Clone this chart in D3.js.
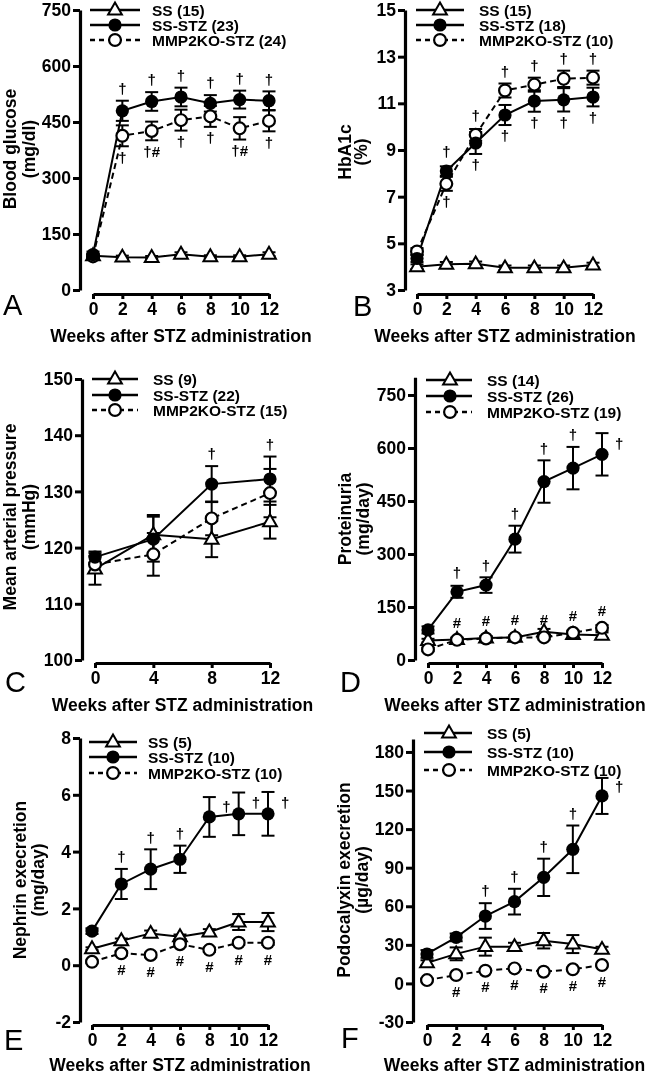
<!DOCTYPE html>
<html><head><meta charset="utf-8">
<script src="https://cdn.jsdelivr.net/npm/d3@7"></script>
<style>
body{margin:0;background:#fff}
svg{will-change:transform}
svg text{font-family:"Liberation Sans",Arial,Helvetica,sans-serif;fill:#000}
</style></head><body>
<svg id="chart" width="648" height="1075"></svg>
<script>
// ---------- shared ----------
const weeks = [0, 2, 4, 6, 8, 10, 12];
const mapWeeks = [0, 4, 8, 12];
const groupNames = {SS: "SS", STZ: "SS-STZ", KO: "MMP2KO-STZ"};
const xTitle = "Weeks after STZ administration";

// ---------- A: blood glucose ----------
const glucoseTicks = [0, 150, 300, 450, 600, 750];
const glucoseN = {SS: 15, STZ: 23, KO: 24};
const glucoseSS = [92, 88, 87, 96, 89, 89, 96];
const glucoseSSsem = [5, 4, 4, 5, 4, 4, 5];
const glucoseSTZ = [95, 480, 505, 517, 500, 510, 507];
const glucoseSTZsem = [8, 27, 25, 25, 22, 24, 25];
const glucoseKO = [90, 413, 426, 455, 465, 433, 453];
const glucoseKOsem = [6, 28, 25, 28, 28, 30, 28];
const glucoseMarks = [
  ["STZ", 2, "†", "above"], ["STZ", 4, "†", "above"], ["STZ", 6, "†", "above"],
  ["STZ", 8, "†", "above"], ["STZ", 10, "†", "above"], ["STZ", 12, "†", "above"],
  ["KO", 2, "†", "below"], ["KO", 4, "†#", "below"], ["KO", 6, "†", "below"],
  ["KO", 8, "†", "below"], ["KO", 10, "†#", "below"], ["KO", 12, "†", "below"]
];

// ---------- B: HbA1c ----------
const hbaTicks = [3, 5, 7, 9, 11, 13, 15];
const hbaN = {SS: 15, STZ: 18, KO: 10};
const hbaSS = [4.0, 4.1, 4.12, 3.95, 3.95, 3.95, 4.07];
const hbaSSsem = [0.1, 0.1, 0.1, 0.1, 0.1, 0.1, 0.1];
const hbaSTZ = [4.35, 8.1, 9.3, 10.5, 11.1, 11.15, 11.27];
const hbaSTZsem = [0.15, 0.2, 0.47, 0.43, 0.46, 0.5, 0.4];
const hbaKO = [4.65, 7.55, 9.65, 11.55, 11.8, 12.05, 12.1];
const hbaKOsem = [0.15, 0.3, 0.25, 0.3, 0.3, 0.35, 0.3];
const hbaMarks = [
  ["STZ", 2, "†", "above"], ["KO", 2, "†", "below"],
  ["KO", 4, "†", "above"], ["STZ", 4, "†", "below"],
  ["KO", 6, "†", "above"], ["STZ", 6, "†", "below"],
  ["KO", 8, "†", "above"], ["STZ", 8, "†", "below"],
  ["KO", 10, "†", "above"], ["STZ", 10, "†", "below"],
  ["KO", 12, "†", "above"], ["STZ", 12, "†", "below"]
];

// ---------- C: mean arterial pressure ----------
const mapTicks = [100, 110, 120, 130, 140, 150];
const mapN = {SS: 9, STZ: 22, KO: 15};
const mapSS = [116.2, 122.3, 121.5, 124.6];
const mapSSsem = [2.8, 3.5, 3.2, 3.0];
const mapSTZ = [118.3, 121.5, 131.3, 132.2];
const mapSTZsem = [1.0, 4.0, 3.2, 4.0];
const mapKO = [117.0, 118.8, 125.2, 129.7];
const mapKOsem = [1.5, 3.8, 3.0, 4.3];
const mapMarks = [["STZ", 8, "†", "above"], ["STZ", 12, "†", "above"]];

// ---------- D: proteinuria ----------
const protTicks = [0, 150, 300, 450, 600, 750];
const protN = {SS: 14, STZ: 26, KO: 19};
const protSS = [55, 58, 62, 64, 80, 72, 70];
const protSSsem = [5, 5, 5, 5, 8, 8, 8];
const protSTZ = [85, 193, 212, 342, 505, 543, 582];
const protSTZsem = [10, 17, 22, 38, 60, 60, 60];
const protKO = [30, 57, 61, 64, 64, 77, 91];
const protKOsem = [5, 6, 6, 6, 6, 6, 8];
const protMarks = [
  ["STZ", 2, "†", "above"], ["STZ", 4, "†", "above"], ["STZ", 6, "†", "above"],
  ["STZ", 8, "†", "above"], ["STZ", 10, "†", "above"], ["STZ", 12, "†", "right"],
  ["KO", 2, "#", "above"], ["KO", 4, "#", "above"], ["KO", 6, "#", "above"],
  ["KO", 8, "#", "above"], ["KO", 10, "#", "above"], ["KO", 12, "#", "above"]
];

// ---------- E: nephrin excretion ----------
const nephTicks = [-2, 0, 2, 4, 6, 8];
const nephN = {SS: 5, STZ: 10, KO: 10};
const nephSS = [0.58, 0.86, 1.12, 1.0, 1.17, 1.52, 1.52];
const nephSSsem = [0.05, 0.08, 0.1, 0.08, 0.1, 0.28, 0.32];
const nephSTZ = [1.2, 2.86, 3.38, 3.73, 5.22, 5.33, 5.33];
const nephSTZsem = [0.1, 0.53, 0.7, 0.48, 0.7, 0.75, 0.77];
const nephKO = [0.12, 0.42, 0.36, 0.74, 0.54, 0.79, 0.79];
const nephKOsem = [0.05, 0.08, 0.08, 0.08, 0.08, 0.08, 0.08];
const nephMarks = [
  ["STZ", 2, "†", "above"], ["STZ", 4, "†", "above"], ["STZ", 6, "†", "above"],
  ["STZ", 8, "†", "right"], ["STZ", 10, "†", "right"], ["STZ", 12, "†", "right"],
  ["KO", 2, "#", "below"], ["KO", 4, "#", "below"], ["KO", 6, "#", "below"],
  ["KO", 8, "#", "below"], ["KO", 10, "#", "below"], ["KO", 12, "#", "below"]
];

// ---------- F: podocalyxin excretion ----------
const podoTicks = [-30, 0, 30, 60, 90, 120, 150, 180];
const podoN = {SS: 5, STZ: 10, KO: 10};
const podoSS = [16, 23, 28.6, 28.6, 33.2, 30.6, 26.5];
const podoSSsem = [2, 5, 7, 3, 6, 7, 2];
const podoSTZ = [22.9, 35.8, 52.4, 63.6, 82.5, 104.3, 145.8];
const podoSTZsem = [3, 3, 10, 10, 14.5, 18.5, 14];
const podoKO = [2.6, 6.5, 9.9, 11.7, 9.1, 11, 14.3];
const podoKOsem = [1, 1, 1, 1, 1, 1, 1];
const podoMarks = [
  ["STZ", 4, "†", "above"], ["STZ", 6, "†", "above"], ["STZ", 8, "†", "above"],
  ["STZ", 10, "†", "above"], ["STZ", 12, "†", "right"],
  ["KO", 2, "#", "below"], ["KO", 4, "#", "below"], ["KO", 6, "#", "below"],
  ["KO", 8, "#", "below"], ["KO", 10, "#", "below"], ["KO", 12, "#", "below"]
];

// ---------- panels (layout) ----------
const panels = [
  {letter: "A", weeks: weeks, ticks: glucoseTicks, n: glucoseN, marks: glucoseMarks,
   series: {SS: [glucoseSS, glucoseSSsem], STZ: [glucoseSTZ, glucoseSTZsem], KO: [glucoseKO, glucoseKOsem]},
   yDomain: [0, 750], yRange: [290, 10], yAxisX: 80, xRange: [93, 269], xAxisY: 294,
   legend: {rows: [10, 25, 40], x0: 90, x1: 140, mx: 115, tx: 152},
   yTitle: ["Blood glucose", "(mg/dl)"], yTitleX: [16, 35], yTitleY: 149,
   letterPos: [3, 315], xTitleY: 342},
  {letter: "B", weeks: weeks, ticks: hbaTicks, n: hbaN, marks: hbaMarks,
   series: {SS: [hbaSS, hbaSSsem], STZ: [hbaSTZ, hbaSTZsem], KO: [hbaKO, hbaKOsem]},
   yDomain: [3, 15], yRange: [290, 10], yAxisX: 405, xRange: [417, 593], xAxisY: 294,
   legend: {rows: [10, 25, 40], x0: 416, x1: 464, mx: 440, tx: 479},
   yTitle: ["HbA1c", "(%)"], yTitleX: [351, 367], yTitleY: 152,
   letterPos: [353, 316], xTitleY: 342},
  {letter: "C", weeks: mapWeeks, ticks: mapTicks, n: mapN, marks: mapMarks,
   series: {SS: [mapSS, mapSSsem], STZ: [mapSTZ, mapSTZsem], KO: [mapKO, mapKOsem]},
   yDomain: [100, 150], yRange: [660, 379], yAxisX: 82, xRange: [95, 270], xAxisY: 663,
   legend: {rows: [379, 395, 410], x0: 92, x1: 138, mx: 115, tx: 153},
   yTitle: ["Mean arterial pressure", "(mmHg)"], yTitleX: [16, 35], yTitleY: 517,
   letterPos: [5, 692], xTitleY: 711},
  {letter: "D", weeks: weeks, ticks: protTicks, n: protN, marks: protMarks,
   series: {SS: [protSS, protSSsem], STZ: [protSTZ, protSTZsem], KO: [protKO, protKOsem]},
   yDomain: [0, 800], yRange: [660, 377.3], yAxisX: 415, xRange: [428, 602], xAxisY: 663,
   legend: {rows: [380, 396, 412], x0: 426, x1: 472, mx: 450, tx: 487},
   yTitle: ["Proteinuria", "(mg/day)"], yTitleX: [351, 369], yTitleY: 519,
   letterPos: [340, 692], xTitleY: 711},
  {letter: "E", weeks: weeks, ticks: nephTicks, n: nephN, marks: nephMarks,
   series: {SS: [nephSS, nephSSsem], STZ: [nephSTZ, nephSTZsem], KO: [nephKO, nephKOsem]},
   yDomain: [-2, 8], yRange: [1022, 738], yAxisX: 80, xRange: [92, 268], xAxisY: 1025,
   legend: {rows: [742, 757, 773], x0: 89, x1: 137, mx: 113, tx: 148},
   yTitle: ["Nephrin execretion", "(mg/day)"], yTitleX: [26, 44], yTitleY: 880,
   letterPos: [4, 1050], xTitleY: 1071},
  {letter: "F", weeks: weeks, ticks: podoTicks, n: podoN, marks: podoMarks,
   series: {SS: [podoSS, podoSSsem], STZ: [podoSTZ, podoSTZsem], KO: [podoKO, podoKOsem]},
   yDomain: [-30, 190], yRange: [1022, 739.1], yAxisX: 413, xRange: [427, 602], xAxisY: 1025,
   legend: {rows: [733, 752, 770], x0: 424, x1: 472, mx: 449, tx: 487},
   yTitle: ["Podocalyxin execretion", "(\u00b5g/day)"], yTitleX: [350, 368], yTitleY: 880,
   letterPos: [341, 1048], xTitleY: 1071}
];

const svg = d3.select("#chart");
svg.append("rect").attr("width", 648).attr("height", 1075).attr("fill", "#fff");

const drawOrder = ["SS", "KO", "STZ"];
const legendOrder = ["SS", "STZ", "KO"];
const triSym = d3.symbol().type(d3.symbolTriangle).size(82);

function marker(g, key, cx, cy) {
  if (key === "SS") {
    g.append("path").attr("d", triSym()).attr("transform", `translate(${cx},${cy + 0.5})`)
      .attr("fill", "#fff").attr("stroke", "#000").attr("stroke-width", 2).attr("stroke-linejoin", "miter");
  } else if (key === "STZ") {
    g.append("circle").attr("cx", cx).attr("cy", cy).attr("r", 6.6).attr("fill", "#000");
  } else {
    g.append("circle").attr("cx", cx).attr("cy", cy).attr("r", 5.9)
      .attr("fill", "#fff").attr("stroke", "#000").attr("stroke-width", 2.2);
  }
}

function styleAxis(a) {
  a.select(".domain").attr("stroke-width", 3.2).attr("stroke", "#000");
  a.selectAll(".tick line").attr("stroke-width", 3).attr("stroke", "#000");
  a.selectAll(".tick text").attr("font-size", 17.5).attr("font-weight", "bold").attr("fill", "#000")
    .attr("font-family", '"Liberation Sans",Arial,sans-serif');
}

panels.forEach(p => {
  const g = svg.append("g");
  const x = d3.scaleLinear().domain([0, 12]).range(p.xRange);
  const y = d3.scaleLinear().domain(p.yDomain).range(p.yRange);

  const ya = g.append("g").attr("transform", `translate(${p.yAxisX},0)`)
    .call(d3.axisLeft(y).tickValues(p.ticks).tickSize(7).tickSizeOuter(0).tickPadding(2).tickFormat(d => String(d)));
  styleAxis(ya);
  const xa = g.append("g").attr("transform", `translate(0,${p.xAxisY})`)
    .call(d3.axisBottom(x).tickValues(p.weeks).tickSize(5).tickSizeOuter(0).tickPadding(4).tickFormat(d => String(d)));
  styleAxis(xa);

  // error bars
  const eb = g.append("g").attr("stroke", "#000").attr("stroke-width", 2).attr("fill", "none");
  drawOrder.forEach(key => {
    const [vals, sems] = p.series[key];
    vals.forEach((v, i) => {
      const cx = x(p.weeks[i]), yt = y(v + sems[i]), yb = y(v - sems[i]);
      eb.append("line").attr("x1", cx).attr("x2", cx).attr("y1", yt).attr("y2", yb);
      eb.append("line").attr("x1", cx - 6.5).attr("x2", cx + 6.5).attr("y1", yt).attr("y2", yt);
      eb.append("line").attr("x1", cx - 6.5).attr("x2", cx + 6.5).attr("y1", yb).attr("y2", yb);
    });
  });
  // lines
  drawOrder.forEach(key => {
    const [vals] = p.series[key];
    const line = d3.line().x((d, i) => x(p.weeks[i])).y(d => y(d));
    g.append("path").attr("d", line(vals)).attr("fill", "none").attr("stroke", "#000")
      .attr("stroke-width", 2).attr("stroke-dasharray", key === "KO" ? "6,4" : null);
  });
  // markers
  drawOrder.forEach(key => {
    const [vals] = p.series[key];
    vals.forEach((v, i) => marker(g, key, x(p.weeks[i]), y(v)));
  });

  // significance marks
  p.marks.forEach(([key, wk, txt, pos]) => {
    const [vals, sems] = p.series[key];
    const i = p.weeks.indexOf(wk);
    const cx = x(wk), cy = y(vals[i]);
    const half = txt === "#" ? 4.5 : 6;
    let tx = cx, ty;
    if (pos === "above") ty = Math.min(y(vals[i] + sems[i]), cy - 7) - (6 + half);
    else if (pos === "below") ty = Math.max(y(vals[i] - sems[i]), cy + 7) + (5 + half);
    else { tx = cx + 13; ty = (cy + y(vals[i] + sems[i])) / 2; }
    g.append("text").attr("x", tx).attr("y", ty).attr("dy", "0.35em")
      .attr("text-anchor", pos === "right" ? "start" : "middle")
      .attr("fill", "#000").attr("font-size", 15).attr("font-weight", "bold").text(txt);
  });

  // legend
  const L = p.legend;
  legendOrder.forEach((key, r) => {
    const ry = L.rows[r];
    g.append("line").attr("x1", L.x0).attr("x2", L.x1).attr("y1", ry).attr("y2", ry)
      .attr("stroke", "#000").attr("stroke-width", 2.5).attr("stroke-dasharray", key === "KO" ? "5,4" : null);
    marker(g, key, L.mx, ry);
    g.append("text").attr("x", L.tx).attr("y", ry).attr("dy", "0.36em")
      .attr("font-size", 15.5).attr("font-weight", "bold").text(`${groupNames[key]} (${p.n[key]})`);
  });

  // y title
  p.yTitle.forEach((t, k) => {
    g.append("text").attr("transform", `translate(${p.yTitleX[k]},${p.yTitleY}) rotate(-90)`)
      .attr("text-anchor", "middle").attr("font-size", 17.5).attr("font-weight", "bold").text(t);
  });
  // x title
  g.append("text").attr("x", (p.xRange[0] + p.xRange[1]) / 2).attr("y", p.xTitleY)
    .attr("text-anchor", "middle").attr("font-size", 17.5).attr("font-weight", "bold").text(xTitle);
  // panel letter
  g.append("text").attr("x", p.letterPos[0]).attr("y", p.letterPos[1])
    .attr("font-size", 29).attr("font-weight", "normal").text(p.letter);
});
</script>
</body></html>
